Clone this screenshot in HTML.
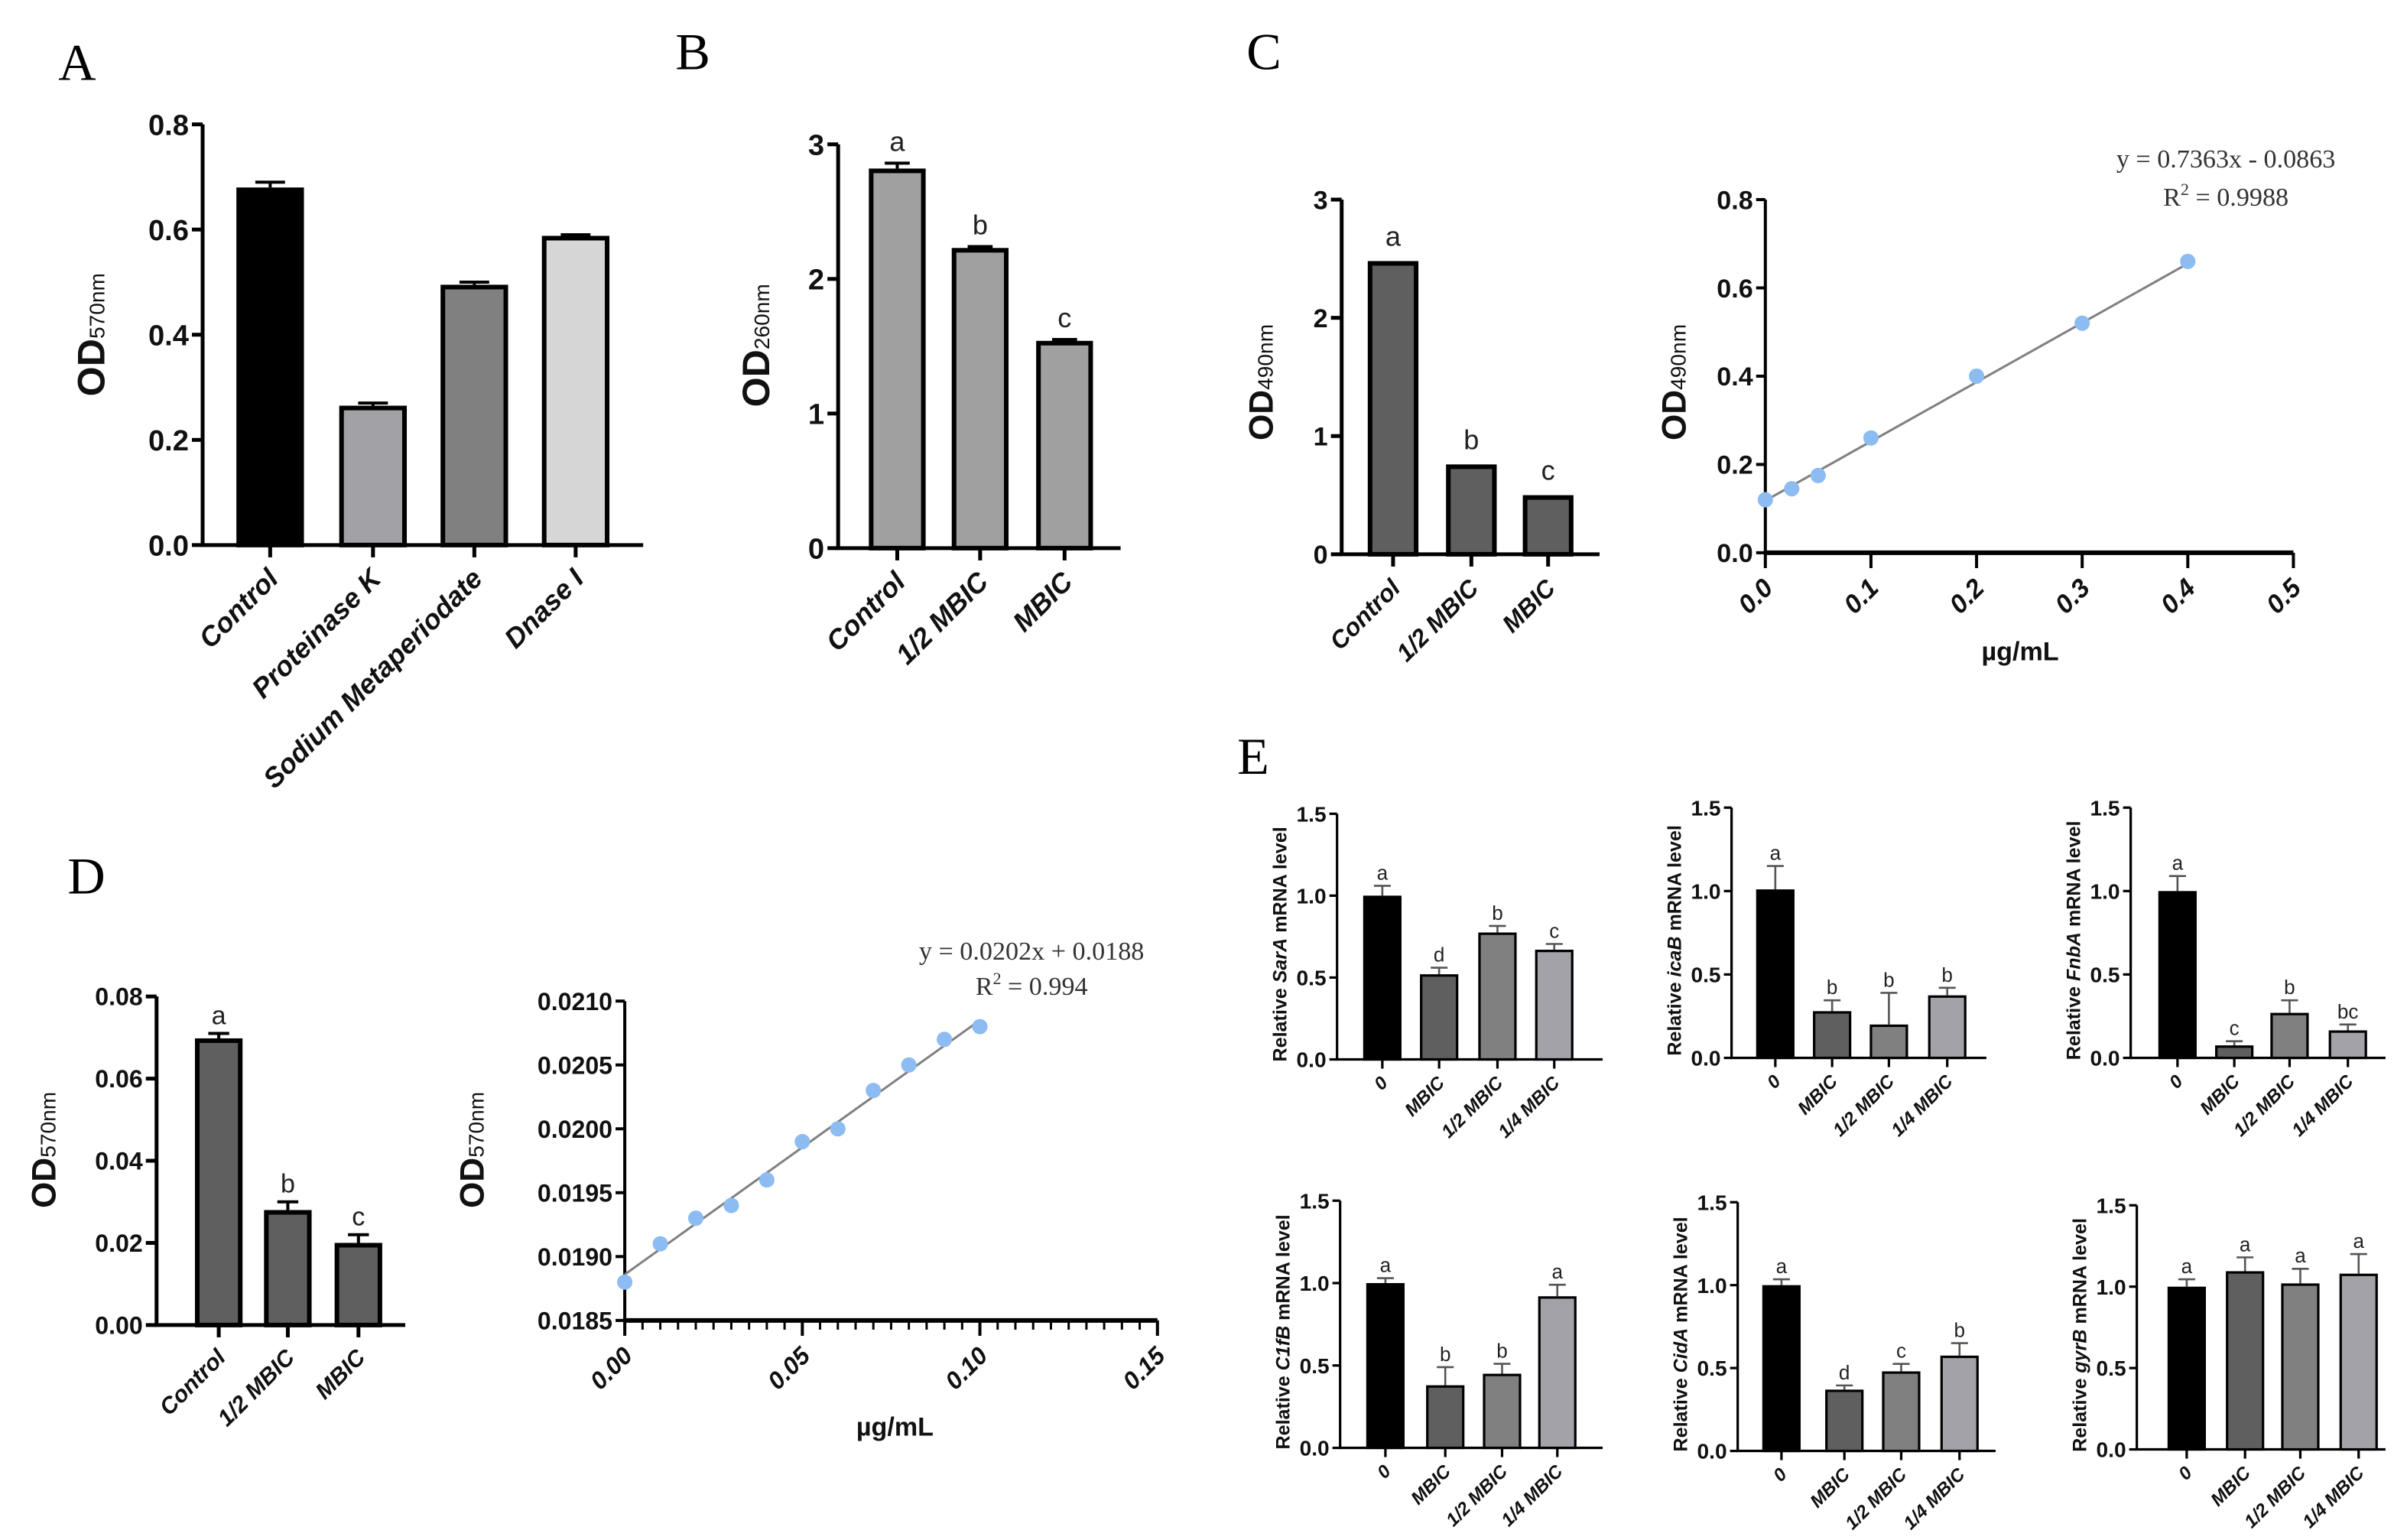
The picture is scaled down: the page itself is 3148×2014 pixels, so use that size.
<!DOCTYPE html>
<html><head><meta charset="utf-8"><style>
html,body{margin:0;padding:0;background:#fff;}
svg{display:block;}
text{font-family:"Liberation Sans",sans-serif;}
.tk{font-family:"Liberation Sans Narrow","Liberation Sans",sans-serif;font-weight:bold;fill:#111;}
.pl{font-family:"Liberation Serif",serif;font-size:34px;}
.eq{font-family:"Liberation Serif",serif;font-size:17px;fill:#333;}
</style></head><body>
<svg id="fig" xmlns="http://www.w3.org/2000/svg" width="3148" height="2014" viewBox="0 0 1568 1003" preserveAspectRatio="none">
<text class="pl" x="38" y="52">A</text>
<text class="pl" x="440" y="45">B</text>
<text class="pl" x="812" y="45">C</text>
<text class="pl" x="44" y="582">D</text>
<text class="pl" x="806" y="504">E</text>
<text class="eq" x="1450" y="109" text-anchor="middle">y = 0.7363x - 0.0863</text>
<text class="eq" x="1450" y="134" text-anchor="middle">R<tspan dy="-7" font-size="11">2</tspan><tspan dy="7"> = 0.9988</tspan></text>
<text class="eq" x="672" y="625" text-anchor="middle">y = 0.0202x + 0.0188</text>
<text class="eq" x="672" y="648" text-anchor="middle">R<tspan dy="-7" font-size="11">2</tspan><tspan dy="7"> = 0.994</tspan></text>
</svg>
<script>
// ---------- data ----------
const catsA = ["Control","Proteinase K","Sodium Metaperiodate","Dnase I"];
const valsA = [0.68,0.265,0.495,0.588];
const errsA = [0.69,0.27,0.50,0.59];
const ticksA = ["0.0","0.2","0.4","0.6","0.8"];

const catsB = ["Control","1/2 MBIC","MBIC"];
const valsB = [2.82,2.23,1.54];
const errsB = [2.86,2.24,1.55];
const lettersB = ["a","b","c"];
const ticksB = ["0","1","2","3"];

const catsC = ["Control","1/2 MBIC","MBIC"];
const valsC = [2.48,0.76,0.50];
const lettersC = ["a","b","c"];
const ticksC = ["0","1","2","3"];

const stdXC = [0,0.025,0.05,0.1,0.2,0.3,0.4];
const stdYC = [0.12,0.145,0.175,0.26,0.40,0.52,0.66];
const fitXC = [0,0.4];
const fitYC = [0.118,0.655];
const ticksCyS = ["0.0","0.2","0.4","0.6","0.8"];
const ticksCxS = ["0.0","0.1","0.2","0.3","0.4","0.5"];

const catsD = ["Control","1/2 MBIC","MBIC"];
const valsD = [0.0698,0.028,0.020];
const errsD = [0.071,0.030,0.022];
const lettersD = ["a","b","c"];
const ticksD = ["0.00","0.02","0.04","0.06","0.08"];

const stdXD = [0,0.01,0.02,0.03,0.04,0.05,0.06,0.07,0.08,0.09,0.10];
const stdYD = [0.0188,0.0191,0.0193,0.0194,0.0196,0.0199,0.0200,0.0203,0.0205,0.0207,0.0208];
const fitXD = [0,0.1];
const fitYD = [0.01886,0.02085];
const ticksDyS = ["0.0185","0.0190","0.0195","0.0200","0.0205","0.0210"];
const ticksDxS = ["0.00","0.05","0.10","0.15"];

const catsE = ["0","MBIC","1/2 MBIC","1/4 MBIC"];
const ticksE = ["0.0","0.5","1.0","1.5"];
const genesE = ["SarA","icaB","FnbA","C1fB","CidA","gyrB"];
const valsE1 = [1.0,0.52,0.775,0.67];   const errsE1 = [1.06,0.56,0.815,0.705]; const letE1 = ["a","d","b","c"];
const valsE2 = [1.01,0.28,0.20,0.375];  const errsE2 = [1.15,0.345,0.39,0.42];  const letE2 = ["a","b","b","b"];
const valsE3 = [1.0,0.075,0.27,0.165];  const errsE3 = [1.09,0.10,0.345,0.20];  const letE3 = ["a","c","b","bc"];
const valsE4 = [1.0,0.38,0.45,0.92];    const errsE4 = [1.03,0.49,0.51,0.99];   const letE4 = ["a","b","b","a"];
const valsE5 = [1.0,0.37,0.48,0.575];   const errsE5 = [1.035,0.395,0.525,0.65];const letE5 = ["a","d","c","b"];
const valsE6 = [1.0,1.095,1.02,1.08];   const errsE6 = [1.045,1.18,1.11,1.2];   const letE6 = ["a","a","a","a"];

// ---------- helpers ----------
const NS="http://www.w3.org/2000/svg";
const svg=document.getElementById('fig');
function mk(tag,attrs,parent){const e=document.createElementNS(NS,tag);for(const k in attrs)e.setAttribute(k,attrs[k]);(parent||svg).appendChild(e);return e;}

function barChart(o){
  const g=mk('g',{});
  
  
  const ymap=v=>o.y0-(v/o.ymax)*(o.y0-o.ytop);
  const ya=mk('line',{x1:o.ax,y1:o.y0,x2:o.ax,y2:o.ytop,stroke:'#000','stroke-width':o.lw},g);
  
  
  const xa=mk('line',{x1:o.ax-o.lw/2,y1:o.y0,x2:o.xend,y2:o.y0,stroke:'#000','stroke-width':o.lw},g);
  
  
  o.ticks.forEach((t,i)=>{
    const v=parseFloat(t); const y=ymap(v);
    mk('line',{x1:o.ax-o.tl,y1:y,x2:o.ax,y2:y,stroke:'#000','stroke-width':o.lw},g);
    const tx=mk('text',{x:o.ax-o.tl-2,y:y+o.tfs*0.36,'text-anchor':'end','font-size':o.tfs,class:'tk'},g);
    tx.textContent=t;
    
    
  });
  o.vals.forEach((v,i)=>{
    const l=o.lefts[i], r=o.lefts[i]+o.bw, c=(l+r)/2, y=ymap(v);
    if(o.errs){
      const ye=ymap(o.errs[i]);
      mk('line',{x1:c,y1:y,x2:c,y2:ye,stroke:o.errc||'#000','stroke-width':o.elw},g);
      mk('line',{x1:c-o.bw*0.22,y1:ye,x2:c+o.bw*0.22,y2:ye,stroke:o.errc||'#000','stroke-width':o.elw},g);
    }
    const b=mk('rect',{x:l+o.bs/2,y:y+o.bs/2,width:o.bw-o.bs,height:Math.max(0,o.y0-y-o.bs/2),fill:o.colors[i],stroke:'#000','stroke-width':o.bs},g);
    
    
    mk('line',{x1:c,y1:o.y0,x2:c,y2:o.y0+o.tl+1,stroke:'#000','stroke-width':o.lw},g);
    if(o.letters){
      const top=o.errs?ymap(o.errs[i]):y;
      const lt=mk('text',{x:c,y:top-o.lgap,'text-anchor':'middle','font-size':o.lfs,fill:'#222'},g);
      lt.textContent=o.letters[i];
      
      
    }
    const xl=mk('text',{transform:`translate(${c+o.xfs*0.35},${o.y0+o.tl+o.xgap}) rotate(-45)`,'text-anchor':'end','font-size':o.xfs,'font-weight':'bold','font-style':'italic',fill:'#111'},g);
    xl.textContent=o.cats[i];
    
    
  });
  const yl=mk('text',{transform:`translate(${o.ylx},${o.yly}) rotate(-90)`,'text-anchor':'middle','font-size':o.yfs,'font-weight':'bold',fill:'#111'},g);
  yl.innerHTML=o.ylab;
  
  
  return g;
}

function scatter(o){
  const g=mk('g',{});
  
  
  const xm=v=>o.ax+(v-o.xmin)/(o.xmax-o.xmin)*(o.xr-o.ax);
  const ym=v=>o.y0-(v-o.ymin)/(o.ymax-o.ymin)*(o.y0-o.ytop);
  const ya=mk('line',{x1:o.ax,y1:o.y0,x2:o.ax,y2:o.ytop,stroke:'#000','stroke-width':2},g);
  
  
  const xa=mk('line',{x1:o.ax-1,y1:o.y0,x2:o.xr,y2:o.y0,stroke:'#000','stroke-width':3},g);
  
  
  o.yt.forEach(t=>{
    const y=ym(parseFloat(t));
    mk('line',{x1:o.ax-6,y1:y,x2:o.ax,y2:y,stroke:'#000','stroke-width':2},g);
    const tx=mk('text',{x:o.ax-8,y:y+o.tfs*0.36,'text-anchor':'end','font-size':o.tfs,class:'tk'},g);
    tx.textContent=t;
    
    
  });
  if(o.minor){
    for(let v=o.xmin;v<=o.xmax+1e-9;v+=o.minor){
      mk('line',{x1:xm(v),y1:o.y0,x2:xm(v),y2:o.y0+6,stroke:'#000','stroke-width':1.5},g);
    }
  }
  o.xt.forEach(t=>{
    const x=xm(parseFloat(t));
    mk('line',{x1:x,y1:o.y0,x2:x,y2:o.y0+10,stroke:'#000','stroke-width':2},g);
    const tx=mk('text',{transform:`translate(${x+6},${o.y0+24}) rotate(-45)`,'text-anchor':'end','font-size':o.tfs,class:'tk','font-style':'italic'},g);
    tx.textContent=t;
    
    
  });
  const fl=mk('line',{x1:xm(o.fx[0]),y1:ym(o.fy[0]),x2:xm(o.fx[1]),y2:ym(o.fy[1]),stroke:'#808080','stroke-width':1.5},g);
  
  
  o.xs.forEach((x,i)=>{
    const p=mk('circle',{cx:xm(x),cy:ym(o.ys[i]),r:5,fill:'#8cbcf2'},g);
    
    
  });
  const yl=mk('text',{transform:`translate(${o.ylx},${o.yly}) rotate(-90)`,'text-anchor':'middle','font-size':22,'font-weight':'bold',fill:'#111'},g);
  yl.innerHTML=o.ylab;
  
  
  const xl=mk('text',{x:o.xlx,y:o.xly,'text-anchor':'middle','font-size':17,'font-weight':'bold',fill:'#111'},g);
  xl.textContent="µg/mL";
  
  
}

const sub=t=>`OD<tspan font-size="14" font-weight="normal">${t}</tspan>`;

barChart({name:'panel-a-chart',ax:132,y0:355,ytop:81,ymax:0.8,ticks:ticksA,xend:419,lw:2.5,tl:7,tfs:19,
  cats:catsA,vals:valsA,errs:errsA,lefts:[154,221,287,353],bw:44,bs:3,elw:2,
  colors:['#000','#a2a2a6','#808080','#d6d6d6'],xfs:18,xgap:16,ylab:sub('570nm'),ylx:68,yly:218,yfs:25});
barChart({name:'panel-b-chart',ax:546,y0:357,ytop:94,ymax:3,ticks:ticksB,xend:730,lw:2.5,tl:7,tfs:19,
  cats:catsB,vals:valsB,errs:errsB,letters:lettersB,lfs:18,lgap:8,lefts:[566,620,675],bw:37,bs:3,elw:2,
  colors:['#a0a0a0','#a0a0a0','#a0a0a0'],xfs:18,xgap:16,ylab:sub('260nm'),ylx:501,yly:225,yfs:25});
barChart({name:'panel-c-chart',ax:874,y0:361,ytop:130,ymax:3,ticks:ticksC,xend:1042,lw:2.5,tl:7,tfs:17,
  cats:catsC,vals:valsC,letters:lettersC,lfs:18,lgap:10,lefts:[891,942,992],bw:33,bs:3,elw:2,
  colors:['#5f5f5f','#5f5f5f','#5f5f5f'],xfs:16,xgap:16,ylab:sub('490nm'),ylx:829,yly:249,yfs:22});
scatter({name:'panel-c-standard-curve',ax:1150,y0:360,ytop:130,xr:1494,xmin:0,xmax:0.5,ymin:0,ymax:0.8,
  yt:ticksCyS,xt:ticksCxS,tfs:17,xs:stdXC,ys:stdYC,fx:fitXC,fy:fitYC,ylab:sub('490nm'),ylx:1098,yly:249,xlx:1316,xly:430});
barChart({name:'panel-d-chart',ax:102,y0:863,ytop:649,ymax:0.08,ticks:ticksD,xend:264,lw:2.5,tl:7,tfs:16,
  cats:catsD,vals:valsD,errs:errsD,letters:lettersD,lfs:17,lgap:6,lefts:[127,172,218],bw:31,bs:3,elw:2,
  colors:['#5f5f5f','#5f5f5f','#5f5f5f'],xfs:15,xgap:15,ylab:sub('570nm'),ylx:36,yly:749,yfs:22});
scatter({name:'panel-d-standard-curve',ax:407,y0:860,ytop:652,xr:754,xmin:0,xmax:0.15,ymin:0.0185,ymax:0.021,minor:0.005,
  yt:ticksDyS,xt:ticksDxS,tfs:16,xs:stdXD,ys:stdYD,fx:fitXD,fy:fitYD,ylab:sub('570nm'),ylx:315,yly:749,xlx:583,xly:935});

const eCols=['#000','#5f5f5f','#808080','#a2a2a8'];
const eCfg=[
 {v:valsE1,e:errsE1,l:letE1,ax:871,y0:690,ytop:530,lefts:[888,925,963,1000],xend:1044},
 {v:valsE2,e:errsE2,l:letE2,ax:1128,y0:689,ytop:526,lefts:[1144,1181,1218,1256],xend:1294},
 {v:valsE3,e:errsE3,l:letE3,ax:1388,y0:689,ytop:526,lefts:[1406,1443,1479,1517],xend:1554},
 {v:valsE4,e:errsE4,l:letE4,ax:873,y0:943,ytop:782,lefts:[890,929,966,1002],xend:1044},
 {v:valsE5,e:errsE5,l:letE5,ax:1132,y0:945,ytop:783,lefts:[1148,1189,1226,1264],xend:1300},
 {v:valsE6,e:errsE6,l:letE6,ax:1392,y0:944,ytop:785,lefts:[1412,1450,1486,1524],xend:1554}
];
eCfg.forEach((c,i)=>{
  barChart({name:'panel-e-'+genesE[i].toLowerCase()+'-chart',ax:c.ax,y0:c.y0,ytop:c.ytop,ymax:1.5,ticks:ticksE,xend:c.xend,lw:1.6,tl:5,tfs:14,
    cats:catsE,vals:c.v,errs:c.e,letters:c.l,lfs:13,lgap:4,lefts:c.lefts,bw:25,bs:1.6,elw:1.3,errc:'#555',
    colors:eCols,xfs:12,xgap:11,
    ylab:`Relative <tspan font-style="italic">${genesE[i]}</tspan> mRNA level`,ylx:c.ax-33,yly:(c.y0+c.ytop)/2+5,yfs:12.5});
});
</script>
</body></html>
